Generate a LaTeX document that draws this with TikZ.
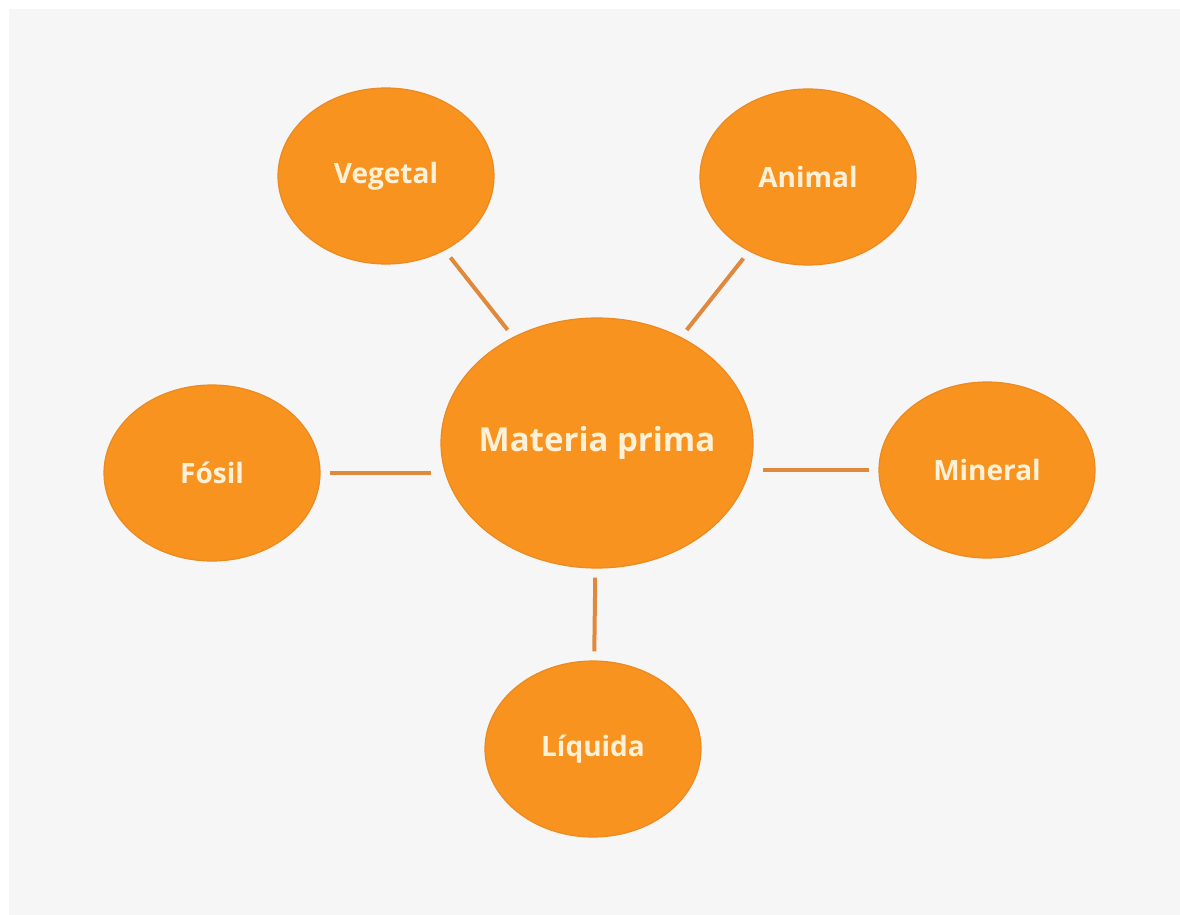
\documentclass[tikz,border=0pt]{standalone}
\usepackage{fontspec}
\setmainfont{Open Sans}
\usetikzlibrary{shapes.geometric}
\definecolor{bgpaper}{HTML}{F6F6F6}
\definecolor{blobfill}{HTML}{F7931E}
\definecolor{blobedge}{HTML}{EC8A22}
\definecolor{linkcol}{HTML}{E0893C}
\definecolor{labelcol}{HTML}{FFF1D8}
\begin{document}
\begin{tikzpicture}[x=1pt,y=-1pt,
  blob/.style={ellipse,fill=blobfill,draw=blobedge,line width=1.2pt,
    inner sep=-30pt,minimum width=#1},
  small/.style={blob=216pt,minimum height=176pt,text=labelcol,
    font=\fontsize{28}{32}\selectfont\bfseries},
  big/.style={blob=312pt,minimum height=250pt,text=labelcol,
    font=\fontsize{33}{40}\selectfont\bfseries},
  link/.style={draw=linkcol,line width=4pt,shorten <=#1,shorten >=#1},
  link/.default=9pt]
  \useasboundingbox (0,0) rectangle (1180,915);
  % page
  \fill[white] (0,0) rectangle (1180,915);
  \fill[bgpaper] (9,9) rectangle (1180,915);
  % nodes
  \node[big]   (mp)  at (597,443) {Materia prima};
  \node[small] (veg) at (386,176) {Vegetal};
  \node[small] (ani) at (808,177) {Animal};
  \node[small] (fos) at (212,473) {Fósil};
  \node[small] (min) at (987,470) {Mineral};
  \node[small] (liq) at (593,749) {Líquida};
  % connectors
  \draw[link] (veg) -- (mp);
  \draw[link] (ani) -- (mp);
  \draw[link] (fos.east) -- (fos.east -| mp.west);
  \draw[link] (min.west) -- (min.west -| mp.east);
  \draw[link] (liq) -- (mp);
\end{tikzpicture}
\end{document}
